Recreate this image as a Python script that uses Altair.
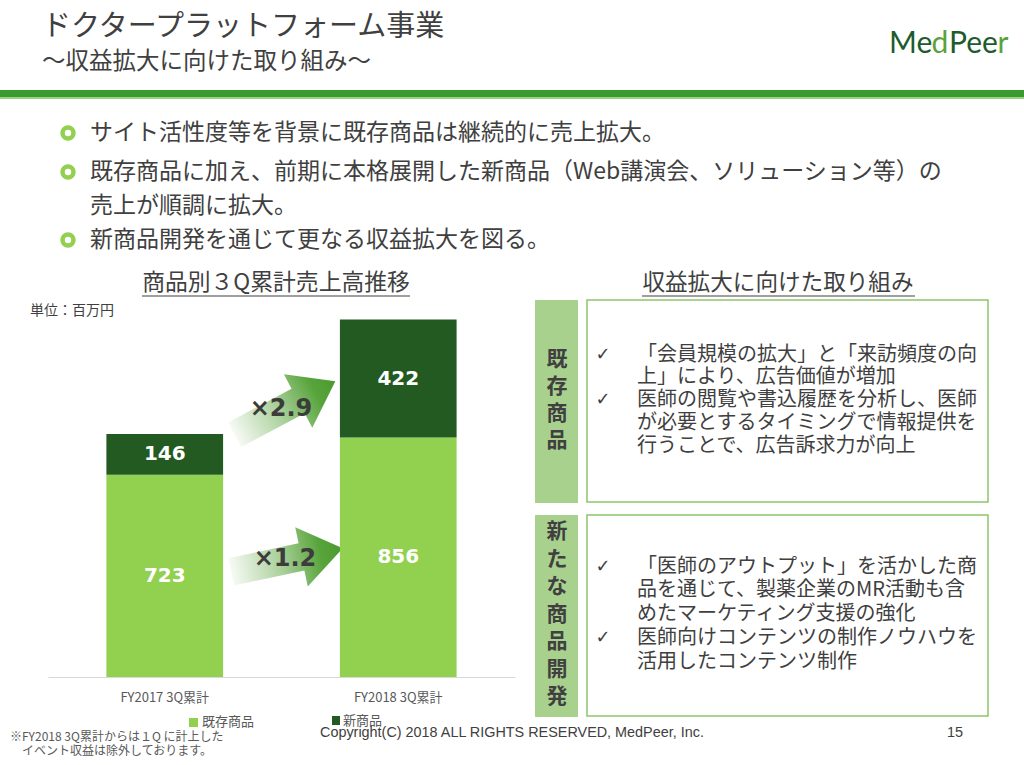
import altair as alt
import pandas as pd

# ---------------- data ----------------
categories = ["FY2017 3Q累計", "FY2018 3Q累計"]
series = ["既存商品", "新商品"]
existing_sales = [723, 856]
new_sales = [146, 422]
multipliers = ["×2.9", "×1.2"]

title = "ドクタープラットフォーム事業"
subtitle = "～収益拡大に向けた取り組み～"
bullets = [
    "サイト活性度等を背景に既存商品は継続的に売上拡大。",
    "既存商品に加え、前期に本格展開した新商品（Web講演会、ソリューション等）の",
    "売上が順調に拡大。",
    "新商品開発を通じて更なる収益拡大を図る。",
]
chart_title = "商品別３Q累計売上高推移"
unit_label = "単位：百万円"
right_title = "収益拡大に向けた取り組み"
box1_label = ["既", "存", "商", "品"]
box1_lines = [
    "「会員規模の拡大」と「来訪頻度の向",
    "上」により、広告価値が増加",
    "医師の閲覧や書込履歴を分析し、医師",
    "が必要とするタイミングで情報提供を",
    "行うことで、広告訴求力が向上",
]
box1_checks = [0, 2]
box2_label = ["新", "た", "な", "商", "品", "開", "発"]
box2_lines = [
    "「医師のアウトプット」を活かした商",
    "品を通じて、製薬企業のMR活動も含",
    "めたマーケティング支援の強化",
    "医師向けコンテンツの制作ノウハウを",
    "活用したコンテンツ制作",
]
box2_checks = [0, 3]
footnote = ["※FY2018 3Q累計からは１Q に計上した", "イベント収益は除外しております。"]
copyright_text = "Copyright(C) 2018 ALL RIGHTS RESERVED, MedPeer, Inc."
page_number = "15"

# ---------------- styles ----------------
LIGHT = "#92D050"
DARK = "#225A22"
TXT = "#404040"
JP = "Noto Sans CJK JP"

rows = []
for i, c in enumerate(categories):
    rows.append({"cat": c, "series": series[0], "value": existing_sales[i], "ord": 0,
                 "mid": existing_sales[i] / 2})
    rows.append({"cat": c, "series": series[1], "value": new_sales[i], "ord": 1,
                 "mid": existing_sales[i] + new_sales[i] / 2})
df = pd.DataFrame(rows)

xscale = alt.Scale(domain=categories, range=[48, 515], paddingInner=0.5, paddingOuter=0.25)
yscale = alt.Scale(domain=[0, 1300], range=[677, 313.4], nice=False, zero=True)

dummy = alt.Data(values=[{"a": 0}])


def txt(x, y, s, size=14, color=TXT, font=JP, weight="normal", align="left", baseline="middle", **kw):
    return alt.Chart(dummy).mark_text(
        text=s, fontSize=size, color=color, font=font, fontWeight=weight,
        align=align, baseline=baseline, **kw
    ).encode(x=alt.value(x), y=alt.value(y))


def rect(x, x2, y, y2, **kw):
    return alt.Chart(dummy).mark_rect(**kw).encode(
        x=alt.value(x), x2=alt.value(x2), y=alt.value(y), y2=alt.value(y2))


def rule(x, x2, y, color, width=1):
    return alt.Chart(dummy).mark_rule(color=color, strokeWidth=width).encode(
        x=alt.value(x), x2=alt.value(x2), y=alt.value(y))


layers = []

# header
layers.append(txt(42, 27, title, size=29))
layers.append(txt(42, 62, subtitle, size=23.5))
LOGO_FONT = "Lato"
layers.append(txt(889, 44, "Me", size=30, color="#1D5B2E", font=LOGO_FONT))
layers.append(txt(931.5, 44, "d", size=30, color="#5AA33A", font=LOGO_FONT))
layers.append(txt(949, 44, "Pee", size=30, color="#1D5B2E", font=LOGO_FONT))
layers.append(txt(997.5, 44, "r", size=30, color="#5AA33A", font=LOGO_FONT))
layers.append(rect(0, 1024, 90, 97, color="#3A9A30"))
layers.append(rect(0, 1024, 97, 99, color="#9BD27E"))

# bullets
bullet_y = [133, 172, 206, 240]
bullet_marks = [True, True, False, True]
for yv, s, has in zip(bullet_y, bullets, bullet_marks):
    if has:
        layers.append(alt.Chart(dummy).mark_point(
            shape="circle", size=120, filled=False, stroke=LIGHT, strokeWidth=4.5, opacity=1
        ).encode(x=alt.value(68), y=alt.value(yv)))
    layers.append(txt(90, yv, s, size=23))

# chart titles
layers.append(txt(276, 283, chart_title, size=22.8, align="center"))
layers.append(rule(142, 410, 296, TXT, 1.2))
layers.append(txt(30, 311, unit_label, size=14))
layers.append(txt(778, 283, right_title, size=22.6, align="center"))
layers.append(rule(642, 915, 296, TXT, 1.2))

# arrows (under labels)
arrow_path = "M -1 -0.245 L 0.26 -0.245 L 0.26 -0.53 L 1 0 L 0.26 0.53 L 0.26 0.245 L -1 0.245 Z"
grad = {"gradient": "linear", "x1": 0, "y1": 0, "x2": 1, "y2": 0,
        "stops": [{"offset": 0, "color": "#F7FAF5"},
                  {"offset": 0.45, "color": "#A8CF98"},
                  {"offset": 0.8, "color": "#58A43C"},
                  {"offset": 1, "color": "#4A9A2E"}]}
for (cx, cy, ang) in [(285, 408, 332), (287, 560, 348)]:
    layers.append(alt.Chart(dummy).mark_point(
        shape=arrow_path, size=13000, angle=ang, filled=True, fill=grad, opacity=1, strokeWidth=0
    ).encode(x=alt.value(cx), y=alt.value(cy)))

# bars
bars = alt.Chart(df).mark_bar(size=116.7).encode(
    x=alt.X("cat:N", scale=xscale, sort=categories,
            axis=alt.Axis(offset=-88, domainColor="#D9D9D9", domainWidth=1, ticks=False,
                          labelFontSize=13, labelPadding=14, labelColor="#595959",
                          labelFont=JP, title=None, labelAngle=0)),
    y=alt.Y("value:Q", stack="zero", scale=yscale, axis=None),
    color=alt.Color("series:N", scale=alt.Scale(domain=series, range=[LIGHT, DARK]), legend=None),
    order=alt.Order("ord:Q"),
)
labels = alt.Chart(df).mark_text(
    color="white", fontSize=20, fontWeight="bold", font="DejaVu Sans", baseline="middle"
).encode(
    x=alt.X("cat:N", scale=xscale, sort=categories),
    y=alt.Y("mid:Q", scale=yscale),
    text=alt.Text("value:Q"),
)
layers += [bars, labels]

# multipliers
layers.append(txt(281, 409, multipliers[0], size=24, weight="bold", font="DejaVu Sans",
                  align="center", color="#3C3C3C"))
layers.append(txt(285, 559, multipliers[1], size=24, weight="bold", font="DejaVu Sans",
                  align="center", color="#3C3C3C"))

# legend
layers.append(rect(189, 198, 718, 727, color=LIGHT))
layers.append(txt(202, 722, series[0], size=13, color="#595959"))
layers.append(rect(332, 340, 716, 725, color=DARK))
layers.append(txt(343, 721, series[1], size=13, color="#595959"))

# footnote, copyright
layers.append(txt(10, 737, footnote[0], size=12, color="#595959"))
layers.append(txt(22, 751, footnote[1], size=12, color="#595959"))
layers.append(txt(320, 733, copyright_text, size=14.4, color=TXT, font="Liberation Sans"))
layers.append(txt(947, 733, page_number, size=14.4, color=TXT, font="Liberation Sans"))

# right boxes
BOX_BORDER = "#8DC56B"
LABEL_FILL = "#A9D18E"
layers.append(rect(535, 578, 300, 503, color=LABEL_FILL))
layers.append(rect(587, 988, 300, 502, fill="white", stroke=BOX_BORDER, strokeWidth=1.5))
layers.append(txt(557, 360, box1_label, size=21, weight="bold", align="center", lineHeight=27))
for i, (yv, s) in enumerate(zip([355, 377, 400, 423, 446], box1_lines)):
    if i in box1_checks:
        layers.append(txt(603, yv, "✓", size=18, font="DejaVu Sans", align="center"))
    layers.append(txt(637, yv, s, size=20))

layers.append(rect(535, 578, 515, 717, color=LABEL_FILL))
layers.append(rect(587, 988, 515, 716, fill="white", stroke=BOX_BORDER, strokeWidth=1.5))
layers.append(txt(557, 532, box2_label, size=21, weight="bold", align="center", lineHeight=27.5))
for i, (yv, s) in enumerate(zip([567, 590, 614, 638, 662], box2_lines)):
    if i in box2_checks:
        layers.append(txt(603, yv, "✓", size=18, font="DejaVu Sans", align="center"))
    layers.append(txt(637, yv, s, size=20))

chart = alt.layer(*layers).properties(
    width=1024, height=765, autosize=alt.AutoSizeParams(type="none"), padding=0,
    background="white"
).configure_view(strokeWidth=0)

chart.save("out.html", embed_options={"renderer": "svg", "actions": False})
